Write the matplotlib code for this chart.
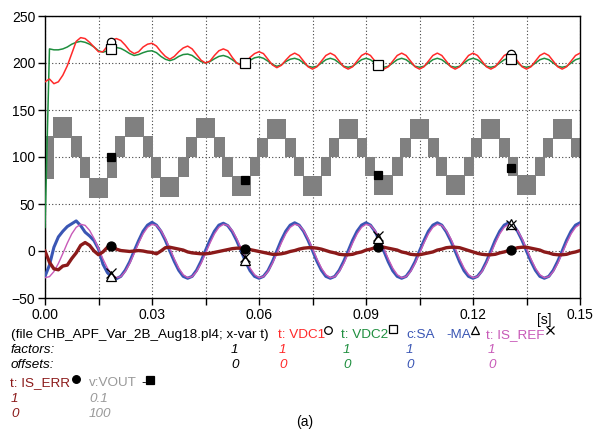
import numpy as np
import matplotlib
matplotlib.use("Agg")
import matplotlib.pyplot as plt
from matplotlib.lines import Line2D

plt.rcParams["font.family"] = ["Liberation Sans", "DejaVu Sans"]

# common time base of the sampled traces [s]
t = np.arange(121) * 0.00125

# t: VDC1 (red)
vdc1 = [180, 183, 178, 180, 187, 197, 210, 223, 227, 226, 222, 217, 212, 212, 218, 224,
        226, 224, 219, 213, 210, 212, 217, 220, 221, 218, 212, 207, 204, 207, 212, 216,
        218, 215, 209, 203, 200, 202, 208, 213, 215, 213, 206, 200, 197.5, 200, 206, 210,
        212, 210, 204, 198, 195, 197.5, 203, 208,
        210.5, 208, 202, 196, 193.5, 196, 202, 208, 210.5, 208, 202, 196, 193.5, 196, 202, 208,
        210.5, 208, 202, 196, 193.5, 196, 202, 208, 210.5, 208, 202, 196, 193.5, 196, 202, 208,
        210.5, 208, 202, 196, 193.5, 196, 202, 208, 210.5, 208, 202, 196, 193.5, 196, 202, 208,
        210.5, 208, 202, 196, 193.5, 196, 202, 208, 210.5, 208, 202, 196, 193.5, 196, 202, 208,
        210.5]

# t: VDC2 (green)
vdc2 = [25, 215, 214, 214, 215, 217, 220, 222, 223, 222, 220, 217, 213, 211.5, 213, 215.5,
        216.5, 215.5, 213, 210, 208, 209, 211, 212.5, 213, 211, 207, 204, 202.5, 204, 207, 209,
        209.5, 208, 204.5, 201.5, 200, 201.5, 204.5, 207, 208, 206.5, 203.5, 200, 198.5, 200, 203, 205.5,
        206.5, 205, 202, 198.5, 196.5, 198, 201.5, 204,
        205, 203.5, 200, 196.5, 195.5, 196.5, 200, 203.5, 205, 203.5, 200, 196.5, 195.5, 196.5, 200, 203.5,
        205, 203.5, 200, 196.5, 195.5, 196.5, 200, 203.5, 205, 203.5, 200, 196.5, 195.5, 196.5, 200, 203.5,
        205, 203.5, 200, 196.5, 195.5, 196.5, 200, 203.5, 205, 203.5, 200, 196.5, 195.5, 196.5, 200, 203.5,
        205, 203.5, 200, 196.5, 195.5, 196.5, 200, 203.5, 205, 203.5, 200, 196.5, 195.5, 196.5, 200, 203.5,
        205]

# c:SA -MA (blue)
sa = [-27, -15, 4, 15, 21, 26, 29, 32, 27, 20, 16, 11, 2, -14, -23, -28,
      -29.5, -27, -20.5, -11.5, 0, 11, 21, 27.5, 30.5, 27.5, 21, 11.5, 0, -11, -20.5, -27,
      -29, -27, -20.5, -11, 0.5, 11.5, 21, 27.5, 29.5, 27, 20.5, 11, 0, -11.5, -21, -27,
      -29, -27, -21, -11.5, 0, 11.5, 21, 27.5, 30, 27.5, 21, 11.5, 0.5, -11, -20.5, -27,
      -29, -27, -20.5, -11, 0, 11.5, 21, 27.5, 30, 27.5, 21, 11, 0, -11.5, -21, -27,
      -29, -27, -20.5, -11.5, 0, 11, 21, 27.5, 30, 27.5, 20.5, 11, 0, -11.5, -21, -27,
      -29, -27, -21, -11.5, 0, 11.5, 21, 27.5, 30, 27.5, 21, 11.5, 0, -11, -20.5, -27,
      -29, -27, -20.5, -11, 0, 11.5, 21, 27.5, 30]

# t: IS_REF (pink)
is_ref = [-28.4, -27.3, -21.9, -13.3, -2.7, 8.4, 18.2, 25.2, 28.4, 27.3, 21.9, 13.3, 2.7, -8.4, -18.2, -25.2,
          -28.4, -27.3, -21.9, -13.3, -2.7, 8.4, 18.2, 25.2, 28.4, 27.3, 21.9, 13.3, 2.7, -8.4, -18.2, -25.2,
          -28.4, -27.3, -21.9, -13.3, -2.7, 8.4, 18.2, 25.2, 28.4, 27.3, 21.9, 13.3, 2.7, -8.4, -18.2, -25.2,
          -28.4, -27.3, -21.9, -13.3, -2.7, 8.4, 18.2, 25.2, 28.4, 27.3, 21.9, 13.3, 2.7, -8.4, -18.2, -25.2,
          -28.4, -27.3, -21.9, -13.3, -2.7, 8.4, 18.2, 25.2, 28.4, 27.3, 21.9, 13.3, 2.7, -8.4, -18.2, -25.2,
          -28.4, -27.3, -21.9, -13.3, -2.7, 8.4, 18.2, 25.2, 28.4, 27.3, 21.9, 13.3, 2.7, -8.4, -18.2, -25.2,
          -28.4, -27.3, -21.9, -13.3, -2.7, 8.4, 18.2, 25.2, 28.4, 27.3, 21.9, 13.3, 2.7, -8.4, -18.2, -25.2,
          -28.4, -27.3, -21.9, -13.3, -2.7, 8.4, 18.2, 25.2, 28.4]

# t: IS_ERR (dark red)
is_err = [0, -12, -19, -20, -16, -15, -8, -2, 6, 9, 6, 0, -4, -1, 4, 6,
          2, 0.5, 0, -0.5, 0, 0.5, 0, -1, -1.5, -3, 0, 3.5, 4, 3, 2, 1,
          -1, -2, -2.5, -3, -3, -2.5, -1.5, -0.5, 0.5, 1.5, 2.5, 3, 3, 2.5, 1.5, 0.5,
          -0.5, -1.5, -2.5, -3.5, -3.5, -3, -2, -0.5, 0.5, 2, 3, 3.5, 3.5, 3, 2, 0.5,
          -1, -2, -3.5, -4, -4, -3.5, -2, -1, 1, 2, 3.5, 4, 4, 3, 2, 1,
          -1, -2, -3.5, -4, -4, -3, -2, -1, 1, 2, 3.5, 4, 4, 3.5, 2, 0.5,
          -1, -2.5, -3.5, -4, -4, -3.5, -2, -1, 0.5, 2, 3.5, 4, 4, 3, 2, 1,
          -1, -2, -3.5, -4, -4, -3.5, -2, -1, 0.5]

# v:VOUT (x0.1, +100): PWM bands between two adjacent levels
vout_t0 = [0.0, 0.0023, 0.0074, 0.0097, 0.0123, 0.0174,
           0.0195, 0.0223, 0.0274, 0.0297, 0.0323, 0.0374,
           0.0395, 0.0423, 0.0474, 0.0497, 0.0523, 0.0574,
           0.0595, 0.0623, 0.0674, 0.0697, 0.0723, 0.0774,
           0.0795, 0.0823, 0.0874, 0.0897, 0.0923, 0.0974,
           0.0995, 0.1023, 0.1074, 0.1097, 0.1123, 0.1174,
           0.1195, 0.1223, 0.1274, 0.1297, 0.1323, 0.1374,
           0.1395, 0.1423, 0.1474]
vout_t1 = [0.0025, 0.0077, 0.0104, 0.0126, 0.0177, 0.0203,
           0.0225, 0.0277, 0.0304, 0.0326, 0.0377, 0.0403,
           0.0425, 0.0477, 0.0504, 0.0526, 0.0577, 0.0603,
           0.0625, 0.0677, 0.0704, 0.0726, 0.0777, 0.0803,
           0.0825, 0.0877, 0.0904, 0.0926, 0.0977, 0.1003,
           0.1025, 0.1077, 0.1104, 0.1126, 0.1177, 0.1203,
           0.1225, 0.1277, 0.1304, 0.1326, 0.1377, 0.1403,
           0.1425, 0.1477, 0.1504]
vout_lo = [77, 120, 100, 78, 56, 78,
           100, 121, 100, 78, 57, 79,
           100, 120, 100, 79, 58, 80,
           100, 119.5, 100, 80, 59, 80,
           100, 119, 100, 80, 60, 80,
           100, 119, 100, 80, 60, 80,
           100, 119, 100, 80, 60, 80,
           100, 119, 100]
vout_hi = [122, 143, 122, 100, 78, 100,
           122, 143, 122, 100, 79, 100,
           121, 141, 121, 100, 80, 100,
           120.5, 140.5, 120.5, 100, 80, 100,
           120, 140, 120, 100, 81, 100,
           120, 140, 120, 100, 81, 100,
           120, 140, 120, 100, 81, 100,
           120, 140, 120]

# marker positions on the traces
mark_t = [0.0185, 0.056, 0.0934, 0.1307]
vout_mark = [100, 76, 81, 88]

C_VDC1 = "#ff2a2a"
C_VDC2 = "#1f8f3f"
C_SA = "#3a56b4"
C_REF = "#c85ab8"
C_ERR = "#8b1a1a"
C_VOUT = "#808080"

W, H = 603, 430
fig = plt.figure(figsize=(W / 100, H / 100), dpi=100)
ax = fig.add_axes([45 / W, 1 - 298 / H, 535 / W, 282 / H])

# VOUT bands
ax.bar(vout_t0, np.subtract(vout_hi, vout_lo), width=np.subtract(vout_t1, vout_t0),
       bottom=vout_lo, align="edge", color=C_VOUT, lw=0, zorder=2)

ax.plot(t, vdc2, color=C_VDC2, lw=1.1, zorder=3)
ax.plot(t, vdc1, color=C_VDC1, lw=1.1, zorder=3)
ax.plot(t, sa, color=C_SA, lw=2.2, zorder=3)
ax.plot(t, is_ref, color=C_REF, lw=1.0, zorder=4)
ax.plot(t, is_err, color=C_ERR, lw=2.4, zorder=4)

# trace markers
mk = dict(ls="none", mec="black", mew=0.9, zorder=6)
ax.plot(mark_t, np.interp(mark_t, t, vdc1), marker="o", ms=6, mfc="white", **mk)
ax.plot(mark_t, np.interp(mark_t, t, vdc2), marker="s", ms=6.5, mfc="white", **mk)
ax.plot(mark_t, vout_mark, marker="s", ms=6, mfc="black", **mk)
ax.plot(mark_t, np.interp(mark_t, t, is_err), marker="o", ms=6.5, mfc="black", **mk)
ax.plot(mark_t, np.interp(mark_t, t, sa), marker="^", ms=7, mfc="white", **mk)
ax.plot(mark_t, np.interp(mark_t, t, is_ref), marker="x", ms=7, color="black", **mk)

ax.set_xlim(0, 0.15)
ax.set_ylim(-50, 250)
xt = np.arange(11) * 0.015
ax.set_xticks(xt)
ax.set_xticklabels([f"{v:.2f}" if i % 2 == 0 else "" for i, v in enumerate(xt)])
ax.set_yticks([-50, 0, 50, 100, 150, 200, 250])
ax.grid(True, ls=(0, (1, 2)), color="#444444", lw=0.8)
ax.set_axisbelow(True)
ax.tick_params(direction="out", length=5, width=1, labelsize=10, pad=2)
for s in ax.spines.values():
    s.set_linewidth(1.0)
    s.set_color("black")


def put(x, y, s, color="black", style="normal", size=9.7):
    fig.text(x / W, 1 - y / H, s, color=color, style=style, fontsize=size,
             ha="left", va="center")


def mark(x, y, m, filled=False, size=5.5):
    fig.add_artist(Line2D([x / W], [1 - y / H], transform=fig.transFigure, marker=m,
                          ms=size, mfc="black" if filled else "white", mec="black",
                          mew=0.9, ls="none", color="black"))


put(537, 320, "[s]", size=10)

# legend block
put(11, 335, "(file CHB_APF_Var_2B_Aug18.pl4; x-var t)")
put(278, 335, "t: VDC1", C_VDC1)
mark(328, 330, "o")
put(341, 335, "t: VDC2", C_VDC2)
mark(393, 329, "s")
put(406, 335, "c:SA", C_SA)
put(446, 335, "-MA", C_SA)
mark(475, 330, "^")
put(486, 335, "t: IS_REF", C_REF)
mark(550, 330, "x")

put(11, 350, "factors:", style="italic")
put(11, 365, "offsets:", style="italic")
for x, c in [(231, "black"), (279, C_VDC1), (343, C_VDC2), (406, C_SA), (488, C_REF)]:
    put(x, 350, "1", c, "italic")
    put(x, 365, "0", c, "italic")

put(10, 383, "t: IS_ERR", C_ERR)
mark(76, 379, "o", True)
put(89, 383, "v:VOUT", "#999999")
put(141, 383, "-", "black")
mark(150, 380, "s", True)
put(11, 399, "1", C_ERR, "italic")
put(11, 414, "0", C_ERR, "italic")
put(89, 399, "0.1", "#999999", "italic")
put(89, 414, "100", "#999999", "italic")

fig.text(305 / W, 1 - 422 / H, "(a)", fontsize=10, ha="center", va="center")

fig.savefig("out.png", dpi=100, facecolor="white")
